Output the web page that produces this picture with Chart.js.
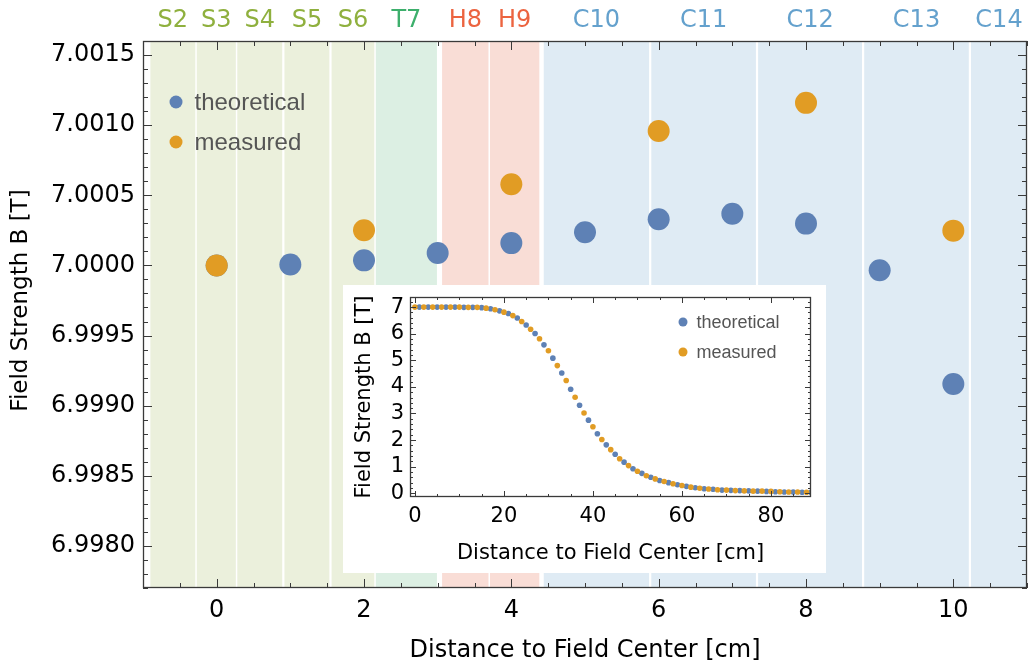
<!DOCTYPE html>
<html>
<head>
<meta charset="utf-8">
<script src="https://cdn.jsdelivr.net/npm/chart.js@4"></script>
<style>
  body { margin: 0; background: #fff; }
  #wrap { position: relative; width: 1029px; height: 666px; }
  #inset { position: absolute; left: 343px; top: 285px; width: 483px; height: 288px; background: #fff; }
  canvas { display: block; }
</style>
</head>
<body>
<div id="wrap">
  <canvas id="fieldChart" width="1029" height="666"></canvas>
  <div id="inset"><canvas id="profileChart" width="483" height="288"></canvas></div>
</div>
<script>
// field near the centre, cm vs tesla
const theoPos = [0, 1, 2, 3, 4, 5, 6, 7, 8, 9, 10];
const theoField = [7.0000, 7.000007, 7.000036, 7.000088, 7.000159, 7.000236, 7.000329, 7.000369, 7.000298, 6.999966, 6.999155];
const measPos = [0, 2, 4, 6, 8, 10];
const measField = [7.0000, 7.00025, 7.000579, 7.000959, 7.001159, 7.000248];

// coil regions along the axis (cm)
const coilNames = ['S2', 'S3', 'S4', 'S5', 'S6', 'T7', 'H8', 'H9', 'C10', 'C11', 'C12', 'C13', 'C14'];
const coilStart = [-0.90, -0.27, 0.28, 0.92, 1.56, 2.16, 3.06, 3.71, 4.44, 5.90, 7.35, 8.79, 10.24];
const coilEnd   = [-0.29, 0.26, 0.89, 1.53, 2.14, 2.99, 3.69, 4.38, 5.87, 7.32, 8.76, 10.21, 11.0];
const coilType  = ['S', 'S', 'S', 'S', 'S', 'T', 'H', 'H', 'C', 'C', 'C', 'C', 'C'];

const xTicks = [0, 2, 4, 6, 8, 10];
const yTicks = [6.998, 6.9985, 6.999, 6.9995, 7.0, 7.0005, 7.001, 7.0015];

// full profile out to 89 cm
const profTheoPos = [1, 3, 5, 7, 9, 11, 13, 15, 17, 19, 21, 23, 25, 27, 29, 31, 33, 35, 37, 39, 41, 43, 45,
  47, 49, 51, 53, 55, 57, 59, 61, 63, 65, 67, 69, 71, 73, 75, 77, 79, 81, 83, 85, 87, 89];
const profTheo = [7.00, 7.00, 7.00, 7.00, 7.00, 6.99, 6.99, 6.98, 6.94, 6.86, 6.76, 6.59, 6.33, 6.01, 5.58,
  5.08, 4.52, 3.91, 3.31, 2.75, 2.24, 1.82, 1.47, 1.17, 0.92, 0.75, 0.60, 0.48, 0.40, 0.32, 0.26, 0.21,
  0.17, 0.15, 0.12, 0.11, 0.10, 0.09, 0.08, 0.07, 0.06, 0.05, 0.05, 0.04, 0.04];
const profMeasPos = [0, 2, 4, 6, 8, 10, 12, 14, 16, 18, 20, 22, 24, 26, 28, 30, 32, 34, 36, 38, 40, 42, 44,
  46, 48, 50, 52, 54, 56, 58, 60, 62, 64, 66, 68, 70, 72, 74, 76, 78, 80, 82, 84, 86, 88];
const profMeas = [7.00, 7.00, 7.00, 7.00, 7.00, 7.00, 6.99, 6.99, 6.96, 6.90, 6.81, 6.68, 6.46, 6.17, 5.81,
  5.36, 4.80, 4.24, 3.61, 3.02, 2.50, 2.02, 1.64, 1.30, 1.04, 0.83, 0.66, 0.54, 0.44, 0.36, 0.29, 0.23,
  0.19, 0.16, 0.13, 0.12, 0.10, 0.09, 0.08, 0.08, 0.07, 0.06, 0.05, 0.05, 0.04];
const profXTicks = [0, 20, 40, 60, 80];
const profYTicks = [0, 1, 2, 3, 4, 5, 6, 7];

const BLUE = '#5e81b5';
const ORANGE = '#e19c24';
const bandFill = { S: '#ebf0dc', T: '#dcefe3', H: '#f9ddd6', C: '#dfebf4' };
const bandText = { S: '#8fb03e', T: '#3daf6c', H: '#ec6440', C: '#64a1cd' };

Chart.defaults.font.family = "'DejaVu Sans', sans-serif";
Chart.defaults.color = '#000';

const toPoints = (xs, ys) => xs.map((x, i) => ({ x: x, y: ys[i] }));

// shaded coil regions with their names above the frame
const coilBands = {
  id: 'coilBands',
  beforeDatasetsDraw(chart) {
    const { ctx, chartArea: a, scales: { x } } = chart;
    ctx.save();
    ctx.font = "24px 'DejaVu Sans'";
    ctx.textAlign = 'center';
    ctx.textBaseline = 'middle';
    coilNames.forEach((name, i) => {
      const x0 = x.getPixelForValue(coilStart[i]);
      const x1 = Math.min(x.getPixelForValue(coilEnd[i]), a.right);
      ctx.fillStyle = bandFill[coilType[i]];
      ctx.fillRect(x0, a.top, x1 - x0, a.bottom - a.top);
      ctx.fillStyle = bandText[coilType[i]];
      ctx.fillText(name, (x0 + x1) / 2, a.top - 20);
    });
    ctx.restore();
  }
};

// Mathematica style frame with ticks pointing inwards on every side
const frame = {
  id: 'frame',
  afterDatasetsDraw(chart, args, o) {
    const { ctx, chartArea: a, scales: { x, y } } = chart;
    ctx.save();
    ctx.strokeStyle = '#3a3a3a';
    ctx.lineWidth = 1;
    const each = (scale, step, fn) => {
      const k0 = Math.ceil(scale.min / step - 1e-6), k1 = Math.floor(scale.max / step + 1e-6);
      for (let k = k0; k <= k1; k++) fn(scale.getPixelForValue(k * step));
    };
    ctx.beginPath();
    [[o.xMinor, o.minorLen], [o.xMajor, o.majorLen]].forEach(([step, len]) => {
      each(x, step, px => {
        px = Math.round(px) + 0.5;
        ctx.moveTo(px, a.bottom); ctx.lineTo(px, a.bottom - len);
        ctx.moveTo(px, a.top); ctx.lineTo(px, a.top + len);
      });
    });
    [[o.yMinor, o.minorLen], [o.yMajor, o.majorLen]].forEach(([step, len]) => {
      each(y, step, py => {
        py = Math.round(py) + 0.5;
        ctx.moveTo(a.left, py); ctx.lineTo(a.left + len, py);
        ctx.moveTo(a.right, py); ctx.lineTo(a.right - len, py);
      });
    });
    ctx.stroke();
    ctx.lineWidth = 1.3;
    ctx.strokeRect(Math.round(a.left) + 0.5, Math.round(a.top) + 0.5,
      Math.round(a.right - a.left) - 1, Math.round(a.bottom - a.top) - 1);
    ctx.restore();
  }
};

// axis titles and the in-plot legend
const annotate = {
  id: 'annotate',
  afterDraw(chart, args, o) {
    const { ctx, chartArea: a } = chart;
    ctx.save();
    ctx.fillStyle = '#000';
    ctx.textAlign = 'center';
    ctx.textBaseline = 'middle';
    ctx.font = o.titleFont;
    ctx.fillText(o.xTitle, (a.left + a.right) / 2, a.bottom + o.xTitleGap);
    ctx.font = o.yTitleFont;
    ctx.translate(o.yTitleX, (a.top + a.bottom) / 2 + o.yTitleShift);
    ctx.rotate(-Math.PI / 2);
    ctx.fillText(o.yTitle, 0, 0);
    ctx.restore();

    ctx.save();
    ctx.font = o.legendFont;
    ctx.textAlign = 'left';
    ctx.textBaseline = 'middle';
    chart.data.datasets.forEach((ds, i) => {
      const cy = a.top + o.legendTop + i * o.legendGap;
      const cx = a.left + o.legendLeft;
      ctx.fillStyle = ds.backgroundColor;
      ctx.beginPath();
      ctx.arc(cx, cy, o.legendDot, 0, Math.PI * 2);
      ctx.fill();
      ctx.fillStyle = '#555';
      ctx.fillText(ds.label, cx + o.legendDot + o.legendText, cy + 1);
    });
    ctx.restore();
  }
};

const fixedTicks = values => scale => { scale.ticks = values.map(v => ({ value: v })); };
// keep the plot frame where it is, no room reserved for edge labels
const fitX = h => s => { s.height = h; s.paddingLeft = 0; s.paddingRight = 0; };
const fitY = w => s => { s.width = w; s.paddingTop = 0; s.paddingBottom = 0; };

new Chart(document.getElementById('fieldChart'), {
  type: 'scatter',
  data: {
    datasets: [
      { label: 'theoretical', data: toPoints(theoPos, theoField), backgroundColor: BLUE,
        pointRadius: 11, pointBorderWidth: 0, order: 1 },
      { label: 'measured', data: toPoints(measPos, measField), backgroundColor: ORANGE,
        pointRadius: 11, pointBorderWidth: 0, order: 0 }
    ]
  },
  options: {
    responsive: false,
    animation: false,
    events: [],
    layout: { autoPadding: false, padding: { top: 41, right: 2, left: 0, bottom: 0 } },
    scales: {
      x: {
        type: 'linear', min: -1, max: 11,
        afterBuildTicks: fixedTicks(xTicks),
        afterFit: fitX(78),
        grid: { display: false, drawTicks: false },
        border: { display: false },
        ticks: { font: { size: 24 }, padding: 8, autoSkip: false, maxRotation: 0 }
      },
      y: {
        type: 'linear', min: 6.9977, max: 7.0016,
        afterBuildTicks: fixedTicks(yTicks),
        afterFit: fitY(143),
        grid: { display: false, drawTicks: false },
        border: { display: false },
        ticks: { font: { size: 24 }, padding: 8, autoSkip: false, callback: v => v.toFixed(4) }
      }
    },
    plugins: {
      legend: { display: false },
      tooltip: { enabled: false },
      frame: { xMinor: 0.5, xMajor: 2, yMinor: 0.0001, yMajor: 0.0005, minorLen: 5, majorLen: 9 },
      annotate: {
        xTitle: 'Distance to Field Center [cm]', yTitle: 'Field Strength B [T]',
        titleFont: "24px 'DejaVu Sans'", yTitleFont: "23px 'DejaVu Sans'",
        xTitleGap: 63, yTitleX: 21, yTitleShift: -14,
        legendFont: "24px 'Liberation Sans'", legendTop: 61, legendGap: 40,
        legendLeft: 33, legendDot: 6.5, legendText: 12
      }
    }
  },
  plugins: [coilBands, frame, annotate]
});

new Chart(document.getElementById('profileChart'), {
  type: 'scatter',
  data: {
    datasets: [
      { label: 'theoretical', data: toPoints(profTheoPos, profTheo), backgroundColor: BLUE,
        pointRadius: 2.8, pointBorderWidth: 0, order: 1 },
      { label: 'measured', data: toPoints(profMeasPos, profMeas), backgroundColor: ORANGE,
        pointRadius: 2.8, pointBorderWidth: 0, order: 0 }
    ]
  },
  options: {
    responsive: false,
    animation: false,
    events: [],
    layout: { autoPadding: false, padding: { top: 12, right: 15, left: 0, bottom: 0 } },
    scales: {
      x: {
        type: 'linear', min: -1.1, max: 89,
        afterBuildTicks: fixedTicks(profXTicks),
        afterFit: fitX(76),
        grid: { display: false, drawTicks: false },
        border: { display: false },
        ticks: { font: { size: 21 }, padding: 7, autoSkip: false, maxRotation: 0 }
      },
      y: {
        type: 'linear', min: -0.14, max: 7.38,
        afterBuildTicks: fixedTicks(profYTicks),
        afterFit: fitY(67),
        grid: { display: false, drawTicks: false },
        border: { display: false },
        ticks: { font: { size: 21 }, padding: 6, autoSkip: false }
      }
    },
    plugins: {
      legend: { display: false },
      tooltip: { enabled: false },
      frame: { xMinor: 5, xMajor: 20, yMinor: 0.2, yMajor: 1, minorLen: 3, majorLen: 6 },
      annotate: {
        xTitle: 'Distance to Field Center [cm]', yTitle: 'Field Strength B [T]',
        titleFont: "21px 'DejaVu Sans'", yTitleFont: "21px 'DejaVu Sans'",
        xTitleGap: 57, yTitleX: 22, yTitleShift: 0,
        legendFont: "18px 'Liberation Sans'", legendTop: 25, legendGap: 30,
        legendLeft: 273, legendDot: 4.5, legendText: 9
      }
    }
  },
  plugins: [frame, annotate]
});
</script>
</body>
</html>
